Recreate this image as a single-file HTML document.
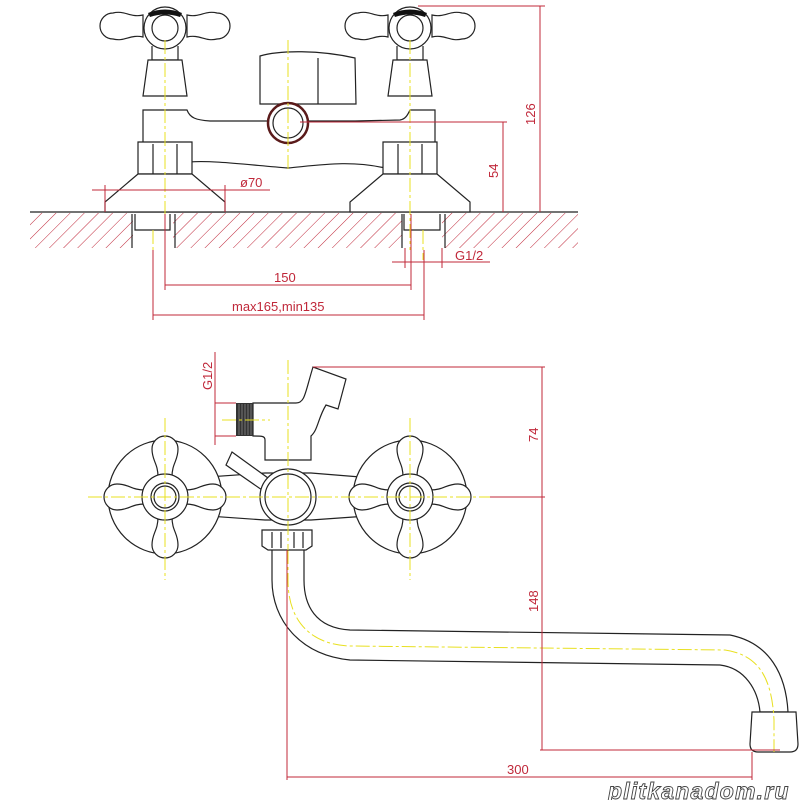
<!DOCTYPE html>
<html><head><meta charset="utf-8"><style>
html,body{margin:0;padding:0;background:#fff;width:800px;height:800px;overflow:hidden}
svg{display:block}
.k{fill:#fff;stroke:#222;stroke-width:1.2}
.n{fill:none;stroke:#222;stroke-width:1.2}
.y{stroke:#e8e020;stroke-width:1;stroke-dasharray:14 3 3 3;fill:none}
.r{stroke:#c0283a;stroke-width:1;fill:none}
.t{font-family:"Liberation Sans",sans-serif;font-size:13px;fill:#c0283a}
</style></head><body>
<svg width="800" height="800" viewBox="0 0 800 800" xmlns="http://www.w3.org/2000/svg">
<defs>
<pattern id="h" width="10" height="10" patternUnits="userSpaceOnUse" patternTransform="rotate(45)">
<line x1="0" y1="0" x2="0" y2="10" stroke="#c0283a" stroke-width="1"/>
</pattern>
<g id="arm"><path class="k" d="M20,-7 C34,-7 36,-13 48,-13 A13,13 0 0 1 48,13 C36,13 34,7 20,7"/></g>
<g id="wheel">
<circle class="k" r="57"/>
<use href="#arm"/><use href="#arm" transform="rotate(90)"/><use href="#arm" transform="rotate(180)"/><use href="#arm" transform="rotate(270)"/>
</g>
<g id="hub"><circle class="k" r="23"/><circle class="n" r="14" stroke-width="2"/><circle class="n" r="11"/></g>
<g id="tap">
<path class="k" d="M-22,-13 C-35,-10 -40,-18 -52,-15 A12,12 0 0 0 -52,11 C-40,14 -35,6 -22,9 Z"/>
<path class="k" d="M22,-13 C35,-10 40,-18 52,-15 A12,12 0 0 1 52,11 C40,14 35,6 22,9 Z"/>
<path class="k" d="M-13,18 L-13,32 L13,32 L13,18"/>
<circle class="k" r="21"/><circle class="n" r="13"/>
<path d="M-17,-15 Q0,-22 17,-15 L15,-11 Q0,-16 -15,-11Z" fill="#111"/>
<path class="k" d="M-17,32 L17,32 L22,68 L-22,68 Z"/>
</g>
<g id="base">
<path class="k" d="M-27,120 L27,120 L27,152 L-27,152 Z"/>
<line class="n" x1="-12" y1="122" x2="-12" y2="152"/><line class="n" x1="12" y1="122" x2="12" y2="152"/>
<path class="k" d="M-27,152 L27,152 L60,180 L60,190 L-60,190 L-60,180 Z"/>
</g>
</defs>

<rect x="30" y="213" width="548" height="35" fill="url(#h)"/>
<rect x="133" y="213" width="40" height="35" fill="#fff"/>
<rect x="402" y="213" width="40" height="35" fill="#fff"/>
<line x1="30" y1="212" x2="578" y2="212" stroke="#222" stroke-width="1.2"/>
<path class="n" d="M135,214 L135,230 L170,230 L170,214 M404,214 L404,230 L440,230 L440,214"/>
<line class="n" x1="132" y1="214" x2="132" y2="248"/><line class="n" x1="175" y1="214" x2="175" y2="248"/>
<line class="n" x1="402" y1="214" x2="402" y2="248"/><line class="n" x1="445" y1="214" x2="445" y2="248"/>

<path class="k" d="M143,110 L187,110 C190,118 196,120 210,121 L258,121 L355,121 L400,120 C406,119 408,114 410,110 L435,110 L435,168 L385,168 C350,160 320,165 288,168 C250,165 210,160 190,162 L187,168 L143,168 Z"/>
<path class="k" d="M260,56 C280,50 320,50 355,58 L356,104 L260,104 Z"/>
<line class="n" x1="318" y1="58" x2="318" y2="104"/>
<circle cx="288" cy="123" r="20" fill="#fff" stroke="#5a1a1a" stroke-width="2.5"/>
<circle cx="288" cy="123" r="15" class="n"/>
<use href="#tap" x="165" y="28"/>
<use href="#tap" x="410" y="28"/>
<use href="#base" x="165" y="22"/>
<use href="#base" x="410" y="22"/>
<line class="y" x1="165" y1="40" x2="165" y2="250"/>
<line class="y" x1="410" y1="40" x2="410" y2="250"/>
<line class="y" x1="288" y1="40" x2="288" y2="170"/>
<line class="y" x1="153" y1="230" x2="153" y2="260"/>
<line class="y" x1="423" y1="230" x2="423" y2="260"/>

<path class="r" d="M418,6 L545,6 M540,6 L540,212 M300,122 L507,122 M503,122 L503,212"/>
<text class="t" transform="translate(535,125) rotate(-90)">126</text>
<text class="t" transform="translate(498,178) rotate(-90)">54</text>
<path class="r" d="M92,190 L270,190 M105,185 L105,212 M225,185 L225,212"/>
<text class="t" x="240" y="187">ø70</text>
<path class="r" d="M165,214 L165,290 M411,214 L411,290 M165,285 L411,285 M153,250 L153,320 M424,250 L424,320 M153,315 L424,315"/>
<text class="t" x="274" y="282">150</text>
<text class="t" x="232" y="311">max165,min135</text>
<path class="r" d="M392,262 L490,262 M405,248 L405,268 M442,248 L442,268"/>
<text class="t" x="455" y="260">G1/2</text>

<path class="k" d="M272,548 L272,580 C272,620 300,655 350,660 L720,665 C745,668 758,690 760,712 L788,712 C786,675 770,643 730,635 L350,630 C315,628 304,605 304,580 L304,548 Z"/>
<path class="k" d="M752,712 L796,712 L798,744 Q798,752 790,752 L758,752 Q750,752 750,744 Z"/>
<path class="y" d="M288,550 L288,580 C288,625 315,645 350,646 L725,650 C760,655 772,680 774,720 L774,752"/>
<path class="k" d="M165,480 L265,473 L311,473 L410,481 L410,513 L311,520 L265,520 L165,513 Z"/>
<use href="#wheel" x="165" y="497"/>
<use href="#wheel" x="410" y="497"/>
<use href="#hub" x="165" y="497"/>
<use href="#hub" x="410" y="497"/>
<path class="k" d="M253,403 L296,403 C305,403 305,393 313,367 L346,379 L338,409 L326,405 C318,418 318,430 311,436 L311,460 L265,460 L265,440 C265,436 262,436 253,436 Z"/>
<rect x="236" y="403" width="17" height="33" fill="#333"/>
<path d="M239,404v31M242,404v31M245,404v31M248,404v31M251,404v31" stroke="#888" stroke-width="0.8"/>
<path class="k" d="M232,452 L268,478 L262,490 L226,465 Z"/>
<path class="k" d="M262,530 L312,530 L312,546 L306,550 L268,550 L262,546 Z"/>
<path class="n" d="M272,532v16M281,532v16M294,532v16M303,532v16"/>
<circle class="k" cx="288" cy="497" r="28"/>
<circle class="n" cx="288" cy="497" r="23" stroke-width="2"/>
<line class="y" x1="88" y1="497" x2="490" y2="497"/>
<line class="y" x1="165" y1="418" x2="165" y2="580"/>
<line class="y" x1="410" y1="418" x2="410" y2="580"/>
<line class="y" x1="288" y1="360" x2="288" y2="550"/>
<line class="y" x1="222" y1="420" x2="270" y2="420"/>
<path class="r" d="M313,367 L545,367 M542,367 L542,750 M490,497 L545,497 M540,750 L780,750"/>
<text class="t" transform="translate(538,442) rotate(-90)">74</text>
<text class="t" transform="translate(538,612) rotate(-90)">148</text>
<path class="r" d="M215,403 L236,403 M215,436 L236,436 M215,352 L215,445"/>
<text class="t" transform="translate(212,390) rotate(-90)">G1/2</text>
<path class="r" d="M287,550 L287,780 M752,752 L752,780 M287,777 L752,777"/>
<text class="t" x="507" y="774">300</text>
<text x="608" y="799" font-family="Liberation Sans,sans-serif" font-size="23" font-style="italic" font-weight="bold" fill="#fff" stroke="#444" stroke-width="0.9" letter-spacing="1.2">plitkanadom.ru</text>
</svg>
</body></html>
